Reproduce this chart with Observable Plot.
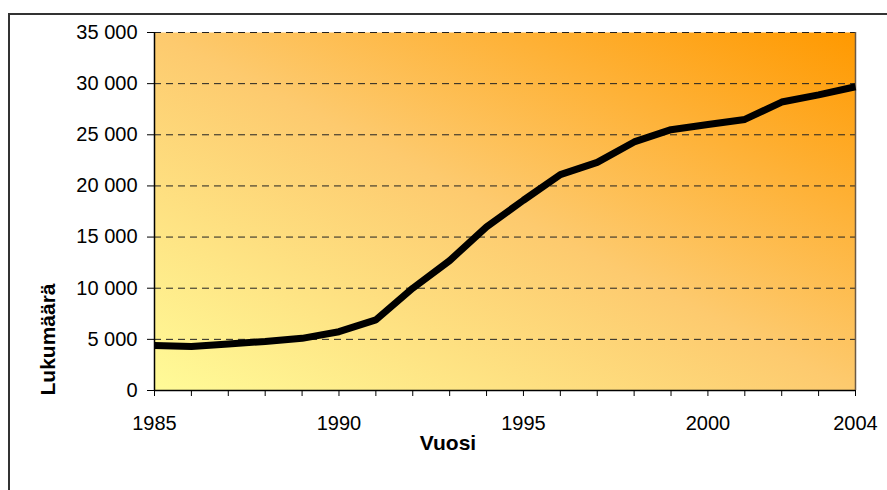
<!DOCTYPE html>
<html><head><meta charset="utf-8">
<script src="https://cdn.jsdelivr.net/npm/d3@7"></script>
<script src="https://cdn.jsdelivr.net/npm/@observablehq/plot@0.6"></script>
<style>
html,body{margin:0;padding:0;background:#fff;overflow:hidden;}
#wrap{position:relative;width:887px;height:490px;}
#wrap svg{position:absolute;left:0;top:0;}
#border{position:absolute;left:8px;top:13px;width:1000px;height:1000px;border:2px solid #333;pointer-events:none;}
</style></head><body>
<div id="wrap"><div id="border"></div></div>
<script>
const years = [1985,1986,1987,1988,1989,1990,1991,1992,1993,1994,1995,1996,1997,1998,1999,2000,2001,2002,2003,2004];
const counts = [4400,4300,4550,4800,5100,5750,6900,10000,12700,16000,18600,21100,22300,24300,25500,26000,26500,28200,28900,29700];
const yTicks = [0,5000,10000,15000,20000,25000,30000,35000];
const xLabelYears = [1985,1990,1995,2000,2004];
const xTitle = "Vuosi";
const yTitle = "Lukumäärä";

const data = years.map((y, i) => ({year: y, count: counts[i]}));
const fmt = d => d3.format(",")(d).replace(/,/g, " ");

const chart = Plot.plot({
  width: 887,
  height: 490,
  marginLeft: 154,
  marginRight: 32,
  marginTop: 32,
  marginBottom: 100,
  style: {fontFamily: "'Liberation Sans', Arial, sans-serif", fontSize: "20px", color: "#000", background: "transparent"},
  x: {domain: [years[0], years[years.length - 1]], type: "linear"},
  y: {domain: [0, 35000]},
  marks: [
    Plot.frame({fill: "url(#bgGrad)", stroke: "none"}),
    Plot.ruleY(yTicks.filter(d => d > 0), {stroke: "#222", strokeWidth: 1, strokeDasharray: "7,5"}),
    Plot.ruleX([years[years.length - 1]], {stroke: "#6b5a45", strokeWidth: 1.5}),
    Plot.line(data, {x: "year", y: "count", stroke: "#000", strokeWidth: 7, strokeLinejoin: "miter", strokeLinecap: "butt"}),
    Plot.ruleX([years[0]], {stroke: "#000", strokeWidth: 1.5}),
    Plot.ruleY([0], {stroke: "#000", strokeWidth: 1.5}),
    Plot.axisY({ticks: yTicks, tickFormat: fmt, tickSize: 7, tickPadding: 10, label: null, stroke: "#000", fill: "#000"}),
    Plot.axisX({ticks: years, tickFormat: d => xLabelYears.includes(d) ? String(d) : "", tickSize: 6, tickPadding: 19, label: null, stroke: "#000", fill: "#000"}),
    Plot.text([xTitle], {frameAnchor: "bottom", textAnchor: "middle", lineAnchor: "middle", dx: -57, dy: 53, fontWeight: "bold", fontSize: 21, fill: "#000"}),
    Plot.text([yTitle], {frameAnchor: "left", textAnchor: "middle", lineAnchor: "middle", rotate: -90, dx: -106, dy: 128, fontWeight: "bold", fontSize: 21, fill: "#000"})
  ]
});

const svg = d3.select(chart);
const defs = svg.insert("defs", ":first-child");
const g = defs.append("linearGradient").attr("id", "bgGrad")
  .attr("x1", 0).attr("y1", 1).attr("x2", 1).attr("y2", 0);
g.append("stop").attr("offset", "0%").attr("stop-color", "#fffb98");
g.append("stop").attr("offset", "50%").attr("stop-color", "#fdca6e");
g.append("stop").attr("offset", "100%").attr("stop-color", "#ff9900");

document.getElementById("wrap").insertBefore(chart, document.getElementById("border"));
</script>
</body></html>
